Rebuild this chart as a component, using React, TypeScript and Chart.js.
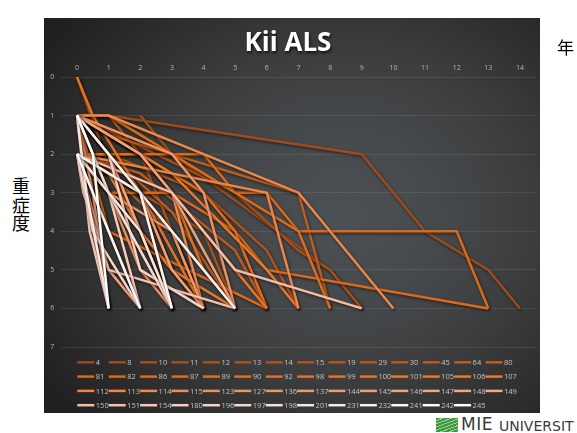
import React, { useEffect, useRef } from 'react';
import { Chart, registerables } from 'chart.js';

Chart.register(...registerables);

// ---- data ----
const seriesLabels = [
  '4', '8', '10', '11', '12', '13', '14', '15', '19', '29', '30', '45', '64', '80',
  '81', '82', '86', '87', '89', '90', '92', '98', '99', '100', '101', '105', '106', '107',
  '112', '113', '114', '115', '123', '127', '136', '137', '144', '145', '146', '147', '148', '149',
  '150', '151', '154', '180', '196', '197', '198', '201', '231', '232', '241', '242', '245',
];

const yearTicks = [0, 1, 2, 3, 4, 5, 6, 7, 8, 9, 10, 11, 12, 13, 14];
const severityTicks = [0, 1, 2, 3, 4, 5, 6, 7];

// [year, severity]
const p4 = [[0, 1], [1, 1], [9, 2], [11, 4], [13, 5], [14, 6]];
const p8 = [[2, 1], [3, 2], [8, 5], [9, 6]];
const p10 = [[0, 0], [1, 2.3], [2, 4], [3, 6]];
const p11 = [[0, 1], [5, 3], [7, 4.5], [8, 5], [9, 6]];
const p12 = [[0, 2], [2, 3], [4, 4], [5, 6]];
const p13 = [[1, 1], [2, 2], [3, 4], [4, 6]];
const p14 = [[0, 1], [1, 2], [4, 3], [6, 4.5], [7, 6]];
const p15 = [[0, 2], [1, 3], [2, 4], [3, 6]];
const p19 = [[0, 1], [2, 2], [4, 3], [5, 4], [6, 6]];
const p29 = [[0, 2], [1, 2.5], [3, 4], [4, 6]];
const p30 = [[0, 1], [2, 3], [3, 5], [4, 6]];
const p45 = [[0, 1], [1, 2], [3, 3.5], [5, 6]];
const p64 = [[0, 2], [2, 2.5], [5, 4.5], [6, 6]];
const p80 = [[0, 1], [1, 1.5], [7, 3], [8, 6]];

const p81 = [[0, 2], [4, 2], [5, 3], [6, 3], [7, 4], [12, 4], [13, 6]];
const p82 = [[0, 2], [1, 3], [3, 3], [5, 4], [6, 5], [13, 6]];
const p86 = [[0, 1], [1, 4], [6, 6]];
const p87 = [[0, 1], [1, 1], [7, 4], [8, 6]];
const p89 = [[0, 2], [2, 2], [4, 3], [5, 4], [6, 6]];
const p90 = [[0, 1], [2, 2], [3, 3], [4, 5], [5, 6]];
const p92 = [[0, 2], [1, 2], [2, 3], [3, 5], [4, 6]];
const p98 = [[0, 0], [0.5, 1], [2, 3], [3, 4], [4, 6]];
const p99 = [[0, 1], [1, 2], [2, 4], [3, 6]];
const p100 = [[0, 2], [2, 3], [3, 4.5], [4, 6]];
const p101 = [[0, 1], [2, 2], [4, 4], [5, 5], [6, 6]];
const p105 = [[0, 2], [1, 3], [3, 5], [5, 6]];
const p106 = [[0, 1], [3, 2.5], [6, 5], [7, 6]];
const p107 = [[0, 2], [1, 2.5], [2, 4], [4, 6]];

const p112 = [[0, 2], [6, 3], [7, 6]];
const p113 = [[0, 1], [1, 1], [7, 3], [10, 6]];
const p114 = [[0, 1], [2, 2], [3, 3], [4, 6]];
const p115 = [[0, 2], [1, 4], [2, 6]];
const p123 = [[0, 1], [1, 3], [2, 5], [3, 6]];
const p127 = [[0, 1], [3, 2], [4, 3], [5, 6]];
const p136 = [[0, 2], [1, 3], [3, 4], [4, 6]];
const p137 = [[0, 1], [0.5, 3], [1, 6]];
const p144 = [[0, 2], [2, 3], [3, 6]];
const p145 = [[0, 1], [1, 2], [2, 3], [3, 5], [4, 6]];
const p146 = [[0, 1], [2, 2], [3, 3], [5, 6]];
const p147 = [[0, 2], [1, 5], [2, 6]];
const p148 = [[0, 1], [1, 2], [3, 6]];
const p149 = [[0, 2], [0.5, 4], [1, 6]];

const p150 = [[0, 2], [3, 3], [5, 5], [9, 6]];
const p151 = [[0, 2], [0.2, 3], [1, 5], [5, 6]];
const p154 = [[0, 1], [0.4, 4], [1, 6]];
const p180 = [[0, 2], [1, 3], [2, 6]];
const p196 = [[0, 1], [1, 2], [2, 5], [4, 6]];
const p197 = [[0, 2], [0.5, 4], [2, 6]];
const p198 = [[0, 1], [1, 3], [3, 6]];
const p201 = [[0, 2], [2, 4], [3, 6]];
const p231 = [[0, 1], [0.3, 3], [1, 6]];
const p232 = [[0, 2], [2, 3], [4, 5], [5, 6]];
const p241 = [[0, 1], [2, 3], [3, 6]];
const p242 = [[0, 2], [1, 4], [2, 6]];
const p245 = [[0, 1], [0.5, 2], [1, 6]];

const seriesPoints = [
  p4, p8, p10, p11, p12, p13, p14, p15, p19, p29, p30, p45, p64, p80,
  p81, p82, p86, p87, p89, p90, p92, p98, p99, p100, p101, p105, p106, p107,
  p112, p113, p114, p115, p123, p127, p136, p137, p144, p145, p146, p147, p148, p149,
  p150, p151, p154, p180, p196, p197, p198, p201, p231, p232, p241, p242, p245,
];

// ---- style ----
const colorStops: [number, string][] = [
  [0, '#9c4b1d'], [13, '#bd5d20'], [14, '#dc681a'], [27, '#ea7a2a'],
  [28, '#ec8546'], [41, '#f3a98a'], [42, '#f5bca6'], [54, '#ffffff'],
];

function hex(c: string) {
  return [1, 3, 5].map((k) => parseInt(c.slice(k, k + 2), 16));
}
function colorAt(i: number) {
  for (let k = 0; k < colorStops.length - 1; k++) {
    const [a, ca] = colorStops[k];
    const [b, cb] = colorStops[k + 1];
    if (i >= a && i <= b) {
      const t = b === a ? 0 : (i - a) / (b - a);
      const A = hex(ca), B = hex(cb);
      const m = A.map((v, j) => Math.round(v + (B[j] - v) * t));
      return `rgb(${m[0]},${m[1]},${m[2]})`;
    }
  }
  return '#ffffff';
}

const PANEL = { left: 44, top: 18, width: 496, height: 395 };
const LEG = { x0: 33.3, dx: 31.4, y0: 344.3, dy: 14.3, cols: 14, line: 17 };

const shadowPlugin = {
  id: 'lineShadow',
  beforeDatasetsDraw(chart: any) {
    const c = chart.ctx;
    c.save();
    c.shadowColor = 'rgba(0,0,0,0.55)';
    c.shadowBlur = 3;
    c.shadowOffsetX = 1;
    c.shadowOffsetY = 1.5;
  },
  afterDatasetsDraw(chart: any) {
    chart.ctx.restore();
  },
};

const gridLegendPlugin = {
  id: 'gridLegend',
  afterDraw(chart: any) {
    const ctx = chart.ctx;
    chart.data.datasets.forEach((ds: any, i: number) => {
      const row = Math.floor(i / LEG.cols);
      const col = i % LEG.cols;
      const x = LEG.x0 + col * LEG.dx;
      const y = LEG.y0 + row * LEG.dy;
      ctx.save();
      ctx.strokeStyle = ds.borderColor;
      ctx.lineWidth = 2.5;
      ctx.beginPath();
      ctx.moveTo(x, y);
      ctx.lineTo(x + LEG.line, y);
      ctx.stroke();
      ctx.fillStyle = '#c4c4c4';
      ctx.font = '7.5px "Open Sans"';
      ctx.textBaseline = 'middle';
      ctx.textAlign = 'left';
      ctx.fillText(ds.label, x + LEG.line + 1.5, y + 0.5);
      ctx.restore();
    });
  },
};

export default function App() {
  const ref = useRef<HTMLCanvasElement | null>(null);

  useEffect(() => {
    if (!ref.current) return;
    const datasets = seriesPoints.map((pts, i) => ({
      label: seriesLabels[i],
      data: pts.map(([x, y]) => ({ x, y })),
      borderColor: colorAt(i),
      backgroundColor: colorAt(i),
      borderWidth: 2.5,
      pointRadius: 0,
      pointHoverRadius: 0,
      fill: false,
      tension: 0,
      order: seriesPoints.length - i,
    }));
    const chart = new Chart(ref.current, {
      type: 'line',
      data: { datasets },
      options: {
        animation: false,
        responsive: false,
        devicePixelRatio: 1,
        layout: { padding: { left: 0, top: 0, right: 4.2, bottom: 66 } },
        plugins: {
          legend: { display: false },
          tooltip: { enabled: false },
          title: { display: false },
        },
        scales: {
          x: {
            type: 'linear',
            position: 'top',
            min: -0.5,
            max: 14.5,
            afterBuildTicks(a: any) {
              a.ticks = yearTicks.map((v) => ({ value: v }));
            },
            ticks: {
              color: '#b4b4b4',
              font: { size: 7, family: 'Open Sans' },
              padding: 5,
            },
            grid: { display: false, drawTicks: false },
            border: { display: false },
            afterFit(a: any) {
              a.height = 59;
            },
          },
          y: {
            type: 'linear',
            reverse: true,
            min: 0,
            max: 7,
            afterBuildTicks(a: any) {
              a.ticks = severityTicks.map((v) => ({ value: v }));
            },
            ticks: {
              color: '#b4b4b4',
              font: { size: 7, family: 'Open Sans' },
              padding: 7,
            },
            grid: { color: 'rgba(255,255,255,0.09)', drawTicks: false, lineWidth: 1 },
            border: { display: false },
            afterFit(a: any) {
              a.width = 17.2;
            },
          },
        },
      },
      plugins: [shadowPlugin, gridLegendPlugin],
    } as any);
    return () => chart.destroy();
  }, []);

  return (
    <div style={{ position: 'fixed', inset: 0, background: '#ffffff', overflow: 'hidden' }}>
      <div
        style={{
          position: 'absolute',
          left: PANEL.left,
          top: PANEL.top,
          width: PANEL.width,
          height: PANEL.height,
          background:
            'radial-gradient(ellipse 72% 78% at 60% 50%, #4c5155 0%, #46494c 28%, #3b3c3d 55%, #2c2c2c 80%, #202020 100%)',
        }}
      >
        <canvas ref={ref} width={PANEL.width} height={PANEL.height} style={{ display: 'block' }} />
        <div
          style={{
            position: 'absolute',
            left: 144,
            width: 200,
            top: 8,
            textAlign: 'center',
            color: '#ffffff',
            font: 'bold 26px "Open Sans"',
            lineHeight: '30px',
            textShadow: '1px 2px 3px rgba(0,0,0,0.7)',
          }}
        >
          Kii ALS
        </div>
      </div>
      <div
        style={{
          position: 'absolute',
          left: 11,
          top: 176,
          width: 20,
          font: '18px "Noto Sans CJK JP"',
          lineHeight: '18.5px',
          color: '#000',
          textAlign: 'center',
        }}
      >
        重<br />症<br />度
      </div>
      <div
        style={{
          position: 'absolute',
          left: 557,
          top: 37,
          font: '17px "Noto Sans CJK JP"',
          lineHeight: '20px',
          color: '#000',
        }}
      >
        年
      </div>
      <div style={{ position: 'absolute', left: 436, top: 418, width: 22, height: 14,
        background: 'repeating-linear-gradient(160deg, #3c9a3c 0px, #3c9a3c 2px, #9ccf9c 2px, #9ccf9c 3px)' }} />
      <div style={{ position: 'absolute', left: 461, top: 414, font: '17px "DejaVu Sans"', color: '#3a3a3a', letterSpacing: '0.5px', lineHeight: '20px' }}>
        MIE
      </div>
      <div style={{ position: 'absolute', left: 499, top: 418, font: '14px "DejaVu Sans"', color: '#3a3a3a', lineHeight: '16px', whiteSpace: 'nowrap' }}>
        UNIVERSIT
      </div>
    </div>
  );
}
